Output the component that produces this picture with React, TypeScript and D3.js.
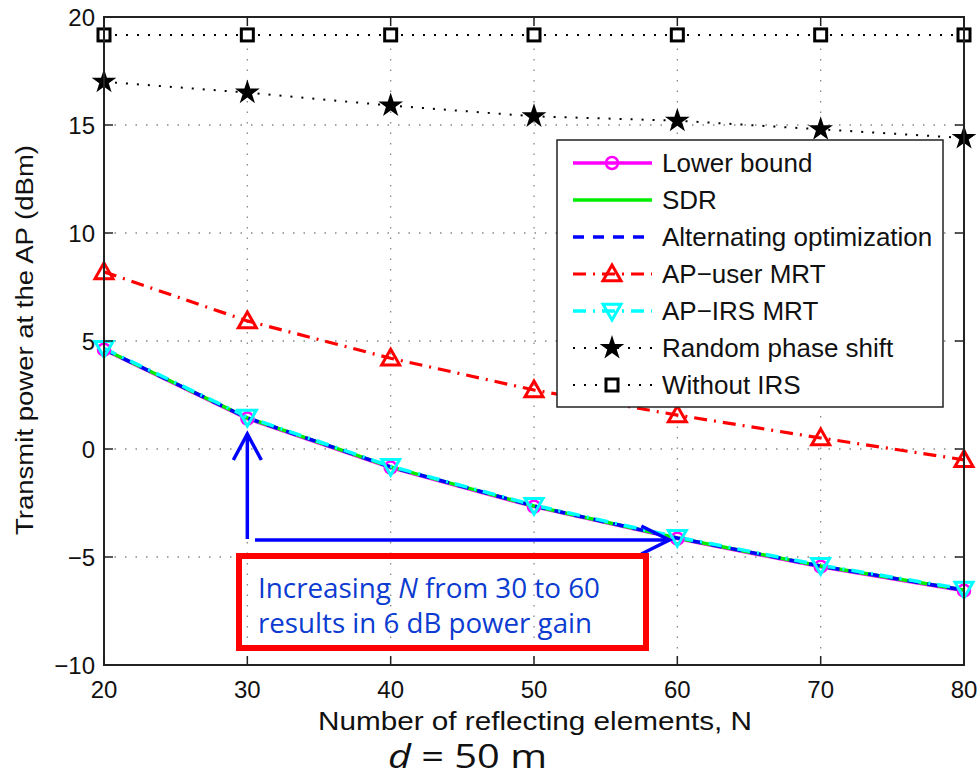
import React, { useEffect } from "react";
import * as d3 from "d3";

const nValues = [20, 30, 40, 50, 60, 70, 80];
const lowerBound = [4.6, 1.41, -0.86, -2.67, -4.15, -5.45, -6.56];
const sdr = [4.62, 1.44, -0.83, -2.64, -4.12, -5.42, -6.53];
const altOpt = [4.62, 1.44, -0.83, -2.64, -4.12, -5.42, -6.53];
const apUserMrt = [8.2, 5.93, 4.2, 2.73, 1.57, 0.51, -0.5];
const apIrsMrt = [4.66, 1.48, -0.8, -2.6, -4.08, -5.38, -6.48];
const randomPhase = [17.0, 16.5, 15.9, 15.4, 15.2, 14.8, 14.4];
const withoutIrs = [19.17, 19.17, 19.17, 19.17, 19.17, 19.17, 19.17];

const xTicks = [20, 30, 40, 50, 60, 70, 80];
const yTicks = [-10, -5, 0, 5, 10, 15, 20];

type Series = {
  name: string;
  values: number[];
  color: string;
  width: number;
  dash: string;
  marker: "circle" | "none" | "tri" | "tridown" | "star" | "square";
};

const series: Series[] = [
  { name: "Lower bound", values: lowerBound, color: "#ff00ff", width: 3.5, dash: "", marker: "circle" },
  { name: "SDR", values: sdr, color: "#00ee00", width: 3.5, dash: "", marker: "none" },
  { name: "Alternating optimization", values: altOpt, color: "#0000ff", width: 3.5, dash: "11,9", marker: "none" },
  { name: "AP\u2212user MRT", values: apUserMrt, color: "#ff0000", width: 3.2, dash: "13,7,2,7", marker: "tri" },
  { name: "AP\u2212IRS MRT", values: apIrsMrt, color: "#00ffff", width: 3.5, dash: "13,7,2,7", marker: "tridown" },
  { name: "Random phase shift", values: randomPhase, color: "#000000", width: 2, dash: "2,9", marker: "star" },
  { name: "Without IRS", values: withoutIrs, color: "#000000", width: 2, dash: "2,9", marker: "square" },
];

const W = 979;
const H = 777;
const left = 104;
const right = 964;
const top = 17;
const bottom = 665;

function Marker({ kind, x, y, color }: { kind: Series["marker"]; x: number; y: number; color: string }) {
  if (kind === "circle") {
    return <circle cx={x} cy={y} r={6} fill="none" stroke={color} strokeWidth={2.5} />;
  }
  if (kind === "tri") {
    const s = 9;
    return (
      <path
        d={`M${x},${y - s} L${x + s},${y + s * 0.75} L${x - s},${y + s * 0.75} Z`}
        fill="none"
        stroke={color}
        strokeWidth={3}
      />
    );
  }
  if (kind === "tridown") {
    const s = 9;
    return (
      <path
        d={`M${x},${y + s} L${x + s},${y - s * 0.75} L${x - s},${y - s * 0.75} Z`}
        fill="none"
        stroke={color}
        strokeWidth={3}
      />
    );
  }
  if (kind === "star") {
    const star = d3.symbol().type(d3.symbolStar).size(190)();
    return <path d={star || ""} transform={`translate(${x},${y})`} fill="#000" />;
  }
  if (kind === "square") {
    return <rect x={x - 6} y={y - 6} width={12} height={12} fill="#fff" stroke="#000" strokeWidth={3} />;
  }
  return null;
}

export default function App() {
  useEffect(() => {
    document.body.style.margin = "0";
  }, []);

  const x = d3.scaleLinear().domain([20, 80]).range([left, right]);
  const y = d3.scaleLinear().domain([-10, 20]).range([bottom, top]);

  const line = d3
    .line<number>()
    .x((_, i) => x(nValues[i]))
    .y((d) => y(d));

  const font = "'Liberation Sans', Arial, sans-serif";
  const calib = "'Open Sans', sans-serif";
  const legX = 557;
  const legY = 140;
  const legRow = 37;

  return (
    <svg width={W} height={H} style={{ display: "block", background: "#fff" }}>
      {/* grid */}
      <g stroke="#888" strokeWidth={1.3} strokeDasharray="1.5,9">
        {xTicks.slice(1, -1).map((t) => (
          <line key={"gx" + t} x1={x(t)} x2={x(t)} y1={top} y2={bottom} />
        ))}
        {yTicks.slice(1, -1).map((t) => (
          <line key={"gy" + t} x1={left} x2={right} y1={y(t)} y2={y(t)} />
        ))}
      </g>

      {/* series lines */}
      {series.map((s) => (
        <path
          key={s.name}
          d={line(s.values) || ""}
          fill="none"
          stroke={s.color}
          strokeWidth={s.width}
          strokeDasharray={s.dash}
        />
      ))}
      {series.map((s) =>
        s.values.map((v, i) => (
          <Marker key={s.name + i} kind={s.marker} x={x(nValues[i])} y={y(v)} color={s.color} />
        ))
      )}

      {/* axes frame */}
      <rect x={left} y={top} width={right - left} height={bottom - top} fill="none" stroke="#222" strokeWidth={2} />
      <g stroke="#222" strokeWidth={1.5}>
        {xTicks.map((t) => (
          <g key={"tx" + t}>
            <line x1={x(t)} x2={x(t)} y1={bottom} y2={bottom - 9} />
            <line x1={x(t)} x2={x(t)} y1={top} y2={top + 9} />
          </g>
        ))}
        {yTicks.map((t) => (
          <g key={"ty" + t}>
            <line x1={left} x2={left + 9} y1={y(t)} y2={y(t)} />
            <line x1={right} x2={right - 9} y1={y(t)} y2={y(t)} />
          </g>
        ))}
      </g>
      <g fontFamily={font} fontSize={24} fill="#111">
        {xTicks.map((t) => (
          <text key={"lx" + t} x={x(t)} y={bottom + 33} textAnchor="middle">
            {t}
          </text>
        ))}
        {yTicks.map((t) => (
          <text key={"ly" + t} x={left - 9} y={y(t) + 9} textAnchor="end">
            {t < 0 ? "\u2212" + Math.abs(t) : t}
          </text>
        ))}
      </g>
      <text
        x={535}
        y={730}
        textAnchor="middle"
        fontFamily={font}
        fontSize={26}
        fill="#111"
        textLength={434}
        lengthAdjust="spacingAndGlyphs"
      >
        Number of reflecting elements, N
      </text>
      <text
        transform={`translate(33,${340}) rotate(-90)`}
        textAnchor="middle"
        fontFamily={font}
        fontSize={23}
        fill="#111"
        textLength={390}
        lengthAdjust="spacingAndGlyphs"
      >
        Transmit power at the AP (dBm)
      </text>

      {/* legend */}
      <rect x={legX} y={legY} width={386} height={267} fill="#fff" stroke="#222" strokeWidth={1.5} />
      {series.map((s, i) => {
        const cy = legY + 23 + i * legRow;
        return (
          <g key={"leg" + s.name}>
            <line
              x1={legX + 16}
              x2={legX + 95}
              y1={cy}
              y2={cy}
              stroke={s.color}
              strokeWidth={s.width}
              strokeDasharray={s.dash}
            />
            <Marker kind={s.marker} x={legX + 55} y={cy} color={s.color} />
            <text x={legX + 105} y={cy + 9} fontFamily={font} fontSize={26} fill="#111">
              {s.name}
            </text>
          </g>
        );
      })}

      {/* annotations */}
      <g stroke="#0000ff" strokeWidth={3.5} fill="none">
        <line x1={x(30)} x2={x(30)} y1={539} y2={434} />
        <path d={`M${x(30) - 14},${460} L${x(30)},${434} L${x(30) + 14},${460}`} />
        <line x1={255} x2={x(60) - 8} y1={540} y2={540} />
        <path d={`M${x(60) - 36},${526} L${x(60) - 8},${540} L${x(60) - 36},${554}`} />
      </g>
      <rect x={239} y={556} width={407} height={92} fill="none" stroke="#ff0000" strokeWidth={6} />
      <g fontFamily={calib} fontSize={28} fill="#0b3bd0">
        <text x={258} y={598} textLength={342} lengthAdjust="spacingAndGlyphs">
          Increasing <tspan fontStyle="italic">N</tspan> from 30 to 60
        </text>
        <text x={258} y={633} textLength={334} lengthAdjust="spacingAndGlyphs">
          results in 6 dB power gain
        </text>
      </g>
      <text
        x={388}
        y={768}
        fontFamily={calib}
        fontSize={33}
        fill="#111"
        textLength={159}
        lengthAdjust="spacingAndGlyphs"
      >
        <tspan fontStyle="italic">d</tspan> = 50 m
      </text>
    </svg>
  );
}
